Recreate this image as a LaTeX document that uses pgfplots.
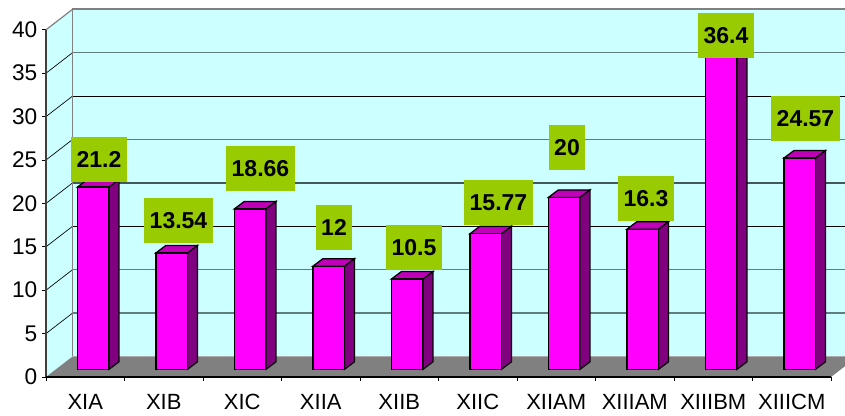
\documentclass[border=0pt]{standalone}
\usepackage{fontspec}
\setmainfont{Liberation Sans}
\usepackage{pgfplots}
\usepackage{pgfplotstable}
\pgfplotsset{compat=1.18}

\definecolor{wall}{HTML}{CCFFFF}
\definecolor{floorgray}{HTML}{808080}
\definecolor{barfront}{HTML}{FF00FF}
\definecolor{barside}{HTML}{800080}
\definecolor{bartop}{HTML}{C000B8}
\definecolor{labelgreen}{HTML}{99CC00}
\definecolor{gridgray}{HTML}{5F7F7F}

\pgfplotstableread{
k v
0 21.2
1 13.54
2 18.66
3 12
4 10.5
5 15.77
6 20
7 16.3
8 36.4
9 24.57
}\bars

% depth of the box in data units
\def\wdx{0.34}
\def\wdy{2.373}
% bars stand further back than the front axis plane and scale a little smaller
\def\barscale{0.9908}

\newcommand\gridline[2]{% value, style
  \pgfmathsetmacro\ga{#1+\wdy}
  \edef\tmp{\noexpand\addplot[#2] coordinates {(\wdx,\ga) (10.178,\ga)};
    \noexpand\addplot[black,line width=.5pt] coordinates {(0,#1) (\wdx,\ga)};}\tmp
}

\begin{document}
\begin{tikzpicture}
\useasboundingbox (-34.5pt,-29.25pt) rectangle (599.25pt,282.75pt);
\begin{axis}[
    x=58.875pt, y=6.51pt,
    xmin=0, xmax=10.178, ymin=0, ymax=43.43,
    clip=false,
    axis line style={draw=none},
    tick align=outside,
    xtick pos=bottom, ytick pos=left,
    ytick={0,5,...,40},
    xtick={0.5,1.5,...,9.5},
    xticklabels={XIA,XIB,XIC,XIIA,XIIB,XIIC,XIIAM,XIIIAM,XIIIBM,XIIICM},
    minor xtick={0,1,...,10},
    major x tick style={draw=none},
    minor x tick style={black,line width=.6pt},
    major y tick style={black,line width=.6pt},
    major tick length=3pt, minor tick length=3pt,
    /pgf/number format/assume math mode=true,
    xticklabel style={font=\fontsize{16.5}{18}\selectfont,yshift=-6.2pt},
    yticklabel style={font=\fontsize{17}{18}\selectfont},
    nodes near coords style={anchor=center,fill=labelgreen,text=black,
      font=\fontsize{17.25}{18}\bfseries\selectfont,
      inner xsep=4.1pt,inner ysep=0pt,minimum height=33.75pt},
]
% walls and floor
\addplot[fill=wall,draw=none] coordinates {(\wdx,2.373) (10.178,2.373) (10.178,42.373) (\wdx,42.373)} --cycle;
\addplot[fill=wall,draw=none] coordinates {(0,0) (\wdx,2.373) (\wdx,42.373) (0,40)} --cycle;
\addplot[fill=floorgray,draw=none] coordinates {(0,0) (10,0) (10.178,1.24) (10.178,2.373) (\wdx,2.373)} --cycle;

% grid
\gridline{5}{gridgray,line width=1.1pt}
\gridline{10}{gridgray,line width=1.1pt}
\gridline{15}{black,line width=.6pt}
\gridline{20}{gridgray!70!black,line width=1.1pt}
\gridline{25}{gridgray,line width=1.1pt}
\gridline{30}{black,line width=.6pt}
\gridline{35}{gridgray,line width=1.1pt}

% frame
\addplot[floorgray,line width=1.1pt] coordinates {(\wdx,2.373) (\wdx,42.373) (10.178,42.373)};
\addplot[floorgray,line width=.9pt] coordinates {(0,40) (\wdx,42.373)};
\addplot[black!75,line width=.8pt] coordinates {(0,0) (0,40)};
\addplot[black,line width=.8pt] coordinates {(0,0) (10,0)};

% side and top of each bar
\pgfplotsinvokeforeach{0,...,9}{
  \pgfplotstablegetelem{#1}{v}\of\bars
  \let\val\pgfplotsretval
  \pgfmathsetmacro\xl{#1+0.4}
  \pgfmathsetmacro\xr{#1+0.8013}
  \pgfmathsetmacro\xrb{#1+0.9287}
  \pgfmathsetmacro\xlb{#1+0.5274}
  \pgfmathsetmacro\yb{0.876}
  \pgfmathsetmacro\ybb{1.74}
  \pgfmathsetmacro\yt{\val*\barscale+0.876}
  \pgfmathsetmacro\ytb{\val*\barscale+1.74}
  \edef\tmp{\noexpand\addplot[fill=barside,draw=black,line width=.95pt] coordinates {(\xr,\yb) (\xrb,\ybb) (\xrb,\ytb) (\xr,\yt)} --cycle;
    \noexpand\addplot[fill=bartop,draw=black,line width=.95pt] coordinates {(\xl,\yt) (\xlb,\ytb) (\xrb,\ytb) (\xr,\yt)} --cycle;}\tmp
}

% front faces
\addplot[ybar,bar width=23.6pt,fill=barfront,draw=black,line width=.95pt,
  xshift=5.9pt,yshift=5.7pt] table[x expr=\thisrow{k}+0.5,y expr=\thisrow{v}*\barscale] {\bars};

% data labels
\addplot[draw=none,point meta=explicit symbolic,nodes near coords] coordinates {
  (0.675,25.06) [21.2]
  (1.688,18.03) [13.54]
  (2.732,24.02) [18.66]
  (3.669,17.22) [12]
  (4.688,14.92) [10.5]
  (5.764,20.10) [15.77]
  (6.637,26.44) [20]
  (7.643,20.56) [16.3]
  (8.662,39.34) [36.4]
  (9.675,29.78) [24.57]
};
\end{axis}
\end{tikzpicture}
\end{document}
